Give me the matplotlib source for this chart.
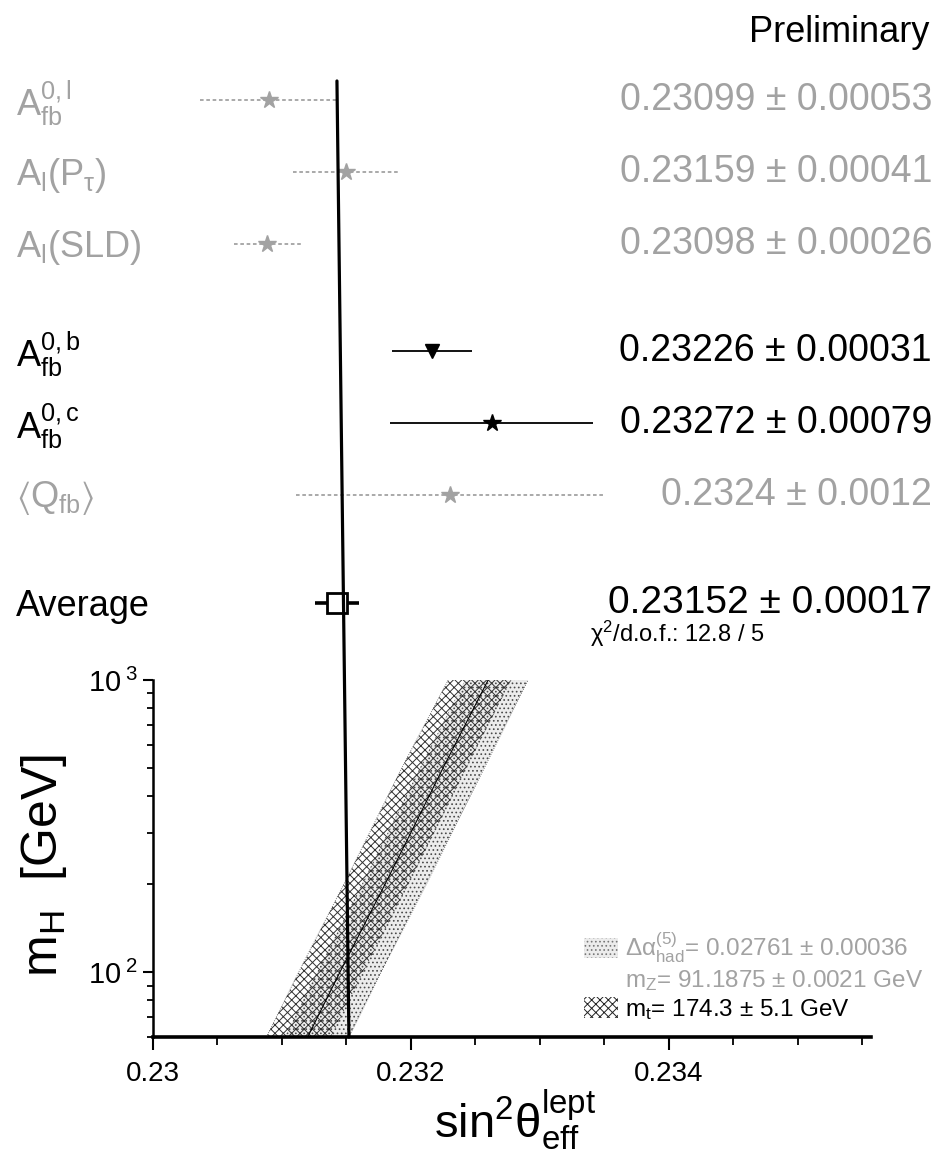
import matplotlib
matplotlib.use('Agg')
import matplotlib.pyplot as plt
import matplotlib.transforms as mtransforms
from matplotlib.patches import ConnectionPatch, Patch
from matplotlib.lines import Line2D
from matplotlib.ticker import MultipleLocator, FixedLocator, NullFormatter, FixedFormatter

plt.rcParams['font.family'] = ['Liberation Sans', 'DejaVu Sans']
plt.rcParams['mathtext.fontset'] = 'custom'
plt.rcParams['mathtext.rm'] = 'Liberation Sans'
plt.rcParams['mathtext.it'] = 'Liberation Sans:italic'
plt.rcParams['mathtext.bf'] = 'Liberation Sans:bold'
plt.rcParams['mathtext.sf'] = 'Liberation Sans'
plt.rcParams['hatch.linewidth'] = 0.7

# ---------------- data ----------------
row_labels = [r'$\mathregular{A_{fb}^{0,l}}$', r'$\mathregular{A_l(P_\tau)}$',
              r'$\mathregular{A_l(SLD)}$', r'$\mathregular{A_{fb}^{0,b}}$',
              r'$\mathregular{A_{fb}^{0,c}}$', r'$\mathregular{\langle Q_{fb}\rangle}$',
              'Average']
values = [0.23099, 0.23159, 0.23098, 0.23226, 0.23272, 0.2324, 0.23152]
errors = [0.00053, 0.00041, 0.00026, 0.00031, 0.00079, 0.0012, 0.00017]
value_texts = ['0.23099 ± 0.00053', '0.23159 ± 0.00041', '0.23098 ± 0.00026',
               '0.23226 ± 0.00031', '0.23272 ± 0.00079', '0.2324 ± 0.0012',
               '0.23152 ± 0.00017']
faded = [True, True, True, False, False, True, False]
markers = ['*', '*', '*', 'v', '*', '*', 's']
row_pos = [0, 1, 2, 3.5, 4.5, 5.5, 7]
average = 0.23152
chi2_text = r'$\mathregular{\chi^2}$/d.o.f.: 12.8 / 5'

# SM prediction band (sin2theta vs mH)
mh = [60, 100, 200, 300, 500, 1000]
band_center = [0.23120, 0.23145, 0.23180, 0.23200, 0.23225, 0.23260]
mt_band_lo = [0.23088, 0.23113, 0.23148, 0.23168, 0.23193, 0.23229]
mt_band_hi = [0.23138, 0.23163, 0.23198, 0.23218, 0.23243, 0.23278]
da_band_lo = [0.23102, 0.23127, 0.23162, 0.23182, 0.23207, 0.23242]
da_band_hi = [0.23152, 0.23177, 0.23212, 0.23232, 0.23257, 0.23291]
legend_texts = [r'$\mathregular{\Delta\alpha^{(5)}_{had}}$= 0.02761 ± 0.00036',
                r'$\mathregular{m_Z}$= 91.1875 ± 0.0021 GeV',
                r'$\mathregular{m_t}$= 174.3 ± 5.1 GeV']
xticks = [0.230, 0.232, 0.234]
xtick_labels = ['0.23', '0.232', '0.234']

# ---------------- figure ----------------
W, H = 944, 1164
fig = plt.figure(figsize=(W / 100, H / 100), dpi=100)
fig.patch.set_facecolor('white')

def fx(px):
    return px / W

def fy(py):
    return 1 - py / H

FADE = '#a2a2a2'

# lower panel
ax_bot = fig.add_axes([fx(153), fy(1037), fx(871) - fx(153), fy(680) - fy(1037)])
ax_bot.set_xlim(0.230, 0.23557)
ax_bot.set_yscale('log')
ax_bot.set_ylim(60, 1000)
ax_bot.fill_betweenx(mh, da_band_lo, da_band_hi, facecolor='#ececec',
                     edgecolor='#4a4a4a', hatch='....', lw=0)
ax_bot.fill_betweenx(mh, mt_band_lo, mt_band_hi, facecolor='none',
                     edgecolor='#333333', hatch='xxxx', lw=0)
ax_bot.plot(mt_band_lo, mh, color='#555555', lw=0.6, ls=':')
ax_bot.plot(da_band_hi, mh, color='#555555', lw=0.6, ls=':')
ax_bot.plot(band_center, mh, color='black', lw=0.8)

for s in ['top', 'right']:
    ax_bot.spines[s].set_visible(False)
ax_bot.spines['left'].set_linewidth(1.8)
ax_bot.spines['bottom'].set_linewidth(2.6)
ax_bot.xaxis.set_major_locator(FixedLocator(xticks))
ax_bot.xaxis.set_major_formatter(FixedFormatter(xtick_labels))
ax_bot.xaxis.set_minor_locator(MultipleLocator(0.0005))
ax_bot.yaxis.set_major_locator(FixedLocator([100, 1000]))
ax_bot.yaxis.set_major_formatter(FixedFormatter([r'$\mathregular{10^{\;2}}$',
                                                 r'$\mathregular{10^{\;3}}$']))
ax_bot.yaxis.set_minor_locator(FixedLocator([60, 70, 80, 90, 200, 300, 400, 500,
                                             600, 700, 800, 900]))
ax_bot.yaxis.set_minor_formatter(NullFormatter())
ax_bot.tick_params(axis='x', which='major', direction='out', length=9, width=1.5,
                   labelsize=20, pad=8)
ax_bot.tick_params(axis='x', which='minor', direction='out', length=6, width=1.3)
ax_bot.tick_params(axis='y', which='major', direction='out', length=7, width=1.5,
                   labelsize=21, pad=4)
ax_bot.tick_params(axis='y', which='minor', direction='out', length=4, width=1.3)

leg_handles = [Patch(facecolor='#ececec', edgecolor='#777777', hatch='....', lw=0),
               Line2D([], [], color='none'),
               Patch(facecolor='none', edgecolor='#222222', hatch='xxxx', lw=0)]
leg = fig.legend(leg_handles, legend_texts, loc='lower left',
                 bbox_to_anchor=(fx(572), fy(1034)), frameon=False, fontsize=17.5,
                 handlelength=1.4, handleheight=0.9, handletextpad=0.3,
                 labelspacing=0.15, borderpad=0)
for t, c in zip(leg.get_texts(), [FADE, FADE, 'black']):
    t.set_color(c)

# upper panel
ax_top = fig.add_axes([fx(153), fy(650), fx(871) - fx(153), fy(60) - fy(650)])
ax_top.set_xlim(0.230093, 0.235663)
ax_top.set_ylim(7.66, -0.557)
ax_top.axis('off')

tr_left = mtransforms.blended_transform_factory(fig.transFigure, ax_top.transData)
for lab, v, e, txt, fd, mk, p in zip(row_labels, values, errors, value_texts,
                                      faded, markers, row_pos):
    col = FADE if fd else 'black'
    if mk == 's':
        ax_top.hlines(p, v - e, v + e, color='black', lw=2.6, zorder=3)
        ax_top.plot(v, p, marker='s', ms=15, mfc='white', mec='black', mew=2,
                    zorder=5)
        fs = 28
    else:
        ax_top.hlines(p, v - e, v + e, color=col, lw=1.3,
                      ls=(0, (2, 1.5)) if fd else '-', zorder=3)
        ax_top.plot(v, p, marker=mk, ms=13 if mk == '*' else 10, color=col,
                    mec=col, zorder=4)
        fs = 27
    ax_top.text(fx(932), p, txt, transform=tr_left, ha='right', va='center',
                fontsize=fs, color=col)
    ax_top.text(fx(16), p + 0.05, lab, transform=tr_left, ha='left',
                va='center', fontsize=26, color=col)

# average vertical line spanning both panels
con = ConnectionPatch(xyA=(average, -0.265), coordsA=ax_top.transData,
                      xyB=(average, 60), coordsB=ax_bot.transData,
                      color='black', lw=2.3, zorder=6)
fig.add_artist(con)

fig.text(fx(590), fy(634), chi2_text, ha='left', va='center', fontsize=17)
fig.text(fx(930), fy(33), 'Preliminary', ha='right', va='center', fontsize=26)
fig.text(fx(44), fy(866), r'$\mathregular{m_H}$  [GeV]', rotation=90,
         ha='center', va='center', fontsize=36)
fig.text(fx(515), fy(1120), r'$\mathregular{sin^2\theta^{lept}_{eff}}$',
         ha='center', va='center', fontsize=34)

fig.savefig('out.png', dpi=100, facecolor='white')
